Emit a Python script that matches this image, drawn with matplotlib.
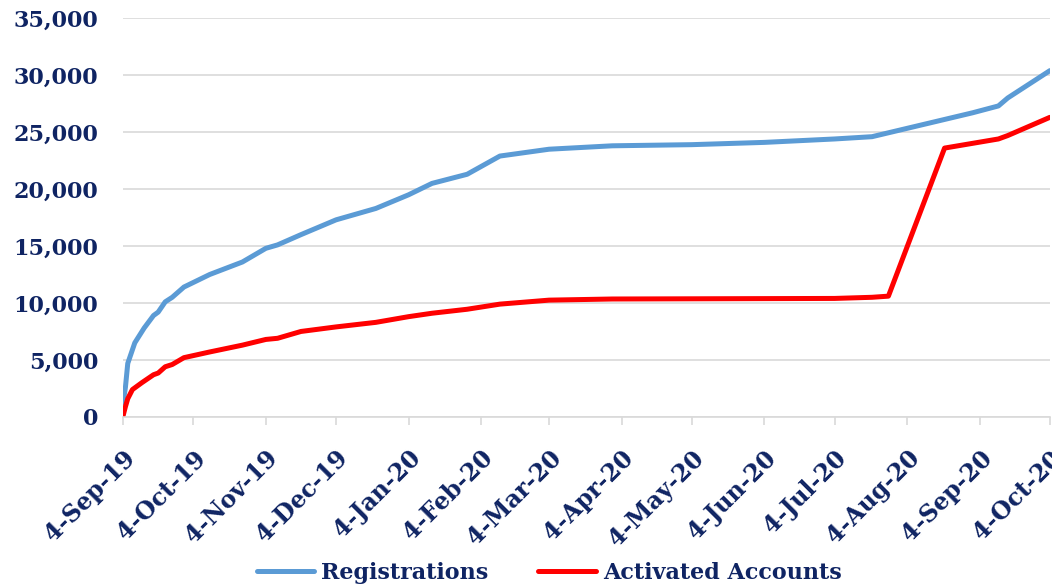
import pandas as pd
import matplotlib
matplotlib.use("Agg")
import matplotlib.pyplot as plt
import matplotlib.ticker as plticker
import matplotlib.transforms as mtransforms

navy = "#0f2463"
fontsize = 16

# cumulative registrations
reg_dates = ["2019-09-04", "2019-09-05", "2019-09-06", "2019-09-09", "2019-09-13",
             "2019-09-17", "2019-09-19", "2019-09-22", "2019-09-25", "2019-09-30",
             "2019-10-11", "2019-10-25", "2019-11-04", "2019-11-09", "2019-11-19",
             "2019-12-04", "2019-12-21", "2020-01-04", "2020-01-14", "2020-01-29",
             "2020-02-12", "2020-03-04", "2020-03-31", "2020-05-04", "2020-06-04",
             "2020-07-04", "2020-07-20", "2020-09-01", "2020-09-12", "2020-09-16",
             "2020-10-04"]
reg_values = [1200, 2600, 4700, 6500, 7800,
              8900, 9200, 10100, 10500, 11400,
              12500, 13600, 14800, 15100, 16000,
              17300, 18300, 19500, 20500, 21300,
              22900, 23500, 23800, 23900, 24100,
              24400, 24600, 26700, 27300, 28000,
              30400]

# cumulative activated accounts
act_dates = ["2019-09-04", "2019-09-05", "2019-09-06", "2019-09-08", "2019-09-12",
             "2019-09-17", "2019-09-19", "2019-09-22", "2019-09-25", "2019-09-30",
             "2019-10-11", "2019-10-25", "2019-11-04", "2019-11-09", "2019-11-19",
             "2019-12-04", "2019-12-21", "2020-01-04", "2020-01-14", "2020-01-29",
             "2020-02-12", "2020-03-04", "2020-03-31", "2020-07-04", "2020-07-20",
             "2020-07-27", "2020-08-20", "2020-09-12", "2020-09-16", "2020-10-04"]
act_values = [100, 900, 1600, 2400, 3000,
              3700, 3850, 4400, 4600, 5200,
              5700, 6300, 6800, 6900, 7500,
              7900, 8300, 8800, 9100, 9450,
              9900, 10250, 10350, 10400, 10500,
              10600, 23600, 24400, 24700, 26300]

# ticks on the 4th of every month
tick_dates = pd.date_range("2019-09-01", "2020-10-01", freq="MS") + pd.Timedelta(days=3)
tick_labels = [f"{d.day}-{d.strftime('%b-%y')}" for d in tick_dates]

plt.rcParams['font.family'] = ['DejaVu Serif']
plt.rcParams['font.weight'] = 'bold'

fig = plt.figure(figsize=(10.52, 5.88), dpi=100)
ax = fig.add_axes([0.117, 0.291, 0.881, 0.678])

ax.plot(pd.to_datetime(reg_dates), reg_values, color="#5b9bd5", linewidth=3.6,
        label="Registrations", solid_capstyle="round")
ax.plot(pd.to_datetime(act_dates), act_values, color="#ff0000", linewidth=3.6,
        label="Activated Accounts", solid_capstyle="round")

ax.set_ylim(0, 35000)
ax.set_xlim(pd.Timestamp("2019-09-04"), pd.Timestamp("2020-10-04"))
ax.yaxis.set_major_locator(plticker.MultipleLocator(5000))
ax.yaxis.set_major_formatter(plticker.StrMethodFormatter("{x:,.0f}"))

# month ticks; labels drawn by hand so they can sit where Excel puts them
ax.set_xticks(tick_dates)
ax.set_xticklabels([])
offset = mtransforms.ScaledTranslation(0.0, -0.29, fig.dpi_scale_trans)
for d, lab in zip(tick_dates, tick_labels):
    ax.text(d, 0, lab, transform=ax.get_xaxis_transform() + offset,
            rotation=45, ha="right", va="top", rotation_mode="anchor",
            fontsize=17, color=navy, clip_on=False)

# grid, spines
ax.set_axisbelow(True)
ax.yaxis.grid(color="#d9d9d9", linewidth=1.2)
for s in ["left", "right", "top"]:
    ax.spines[s].set_visible(False)
ax.spines["bottom"].set_color("#d9d9d9")
ax.spines["bottom"].set_linewidth(1.2)
ax.tick_params(axis="y", length=0, pad=18, labelsize=fontsize, labelcolor=navy)
ax.tick_params(axis="x", length=6, color="#d9d9d9", width=1.2)

handles, labels = ax.get_legend_handles_labels()
leg = fig.legend(handles, labels, loc="center", bbox_to_anchor=(0.522, 0.026), ncol=2,
                 frameon=False, fontsize=16, handlelength=2.6,
                 columnspacing=2.25, handletextpad=0.3)
for t in leg.get_texts():
    t.set_color(navy)

plt.savefig("out.png", dpi=100)
